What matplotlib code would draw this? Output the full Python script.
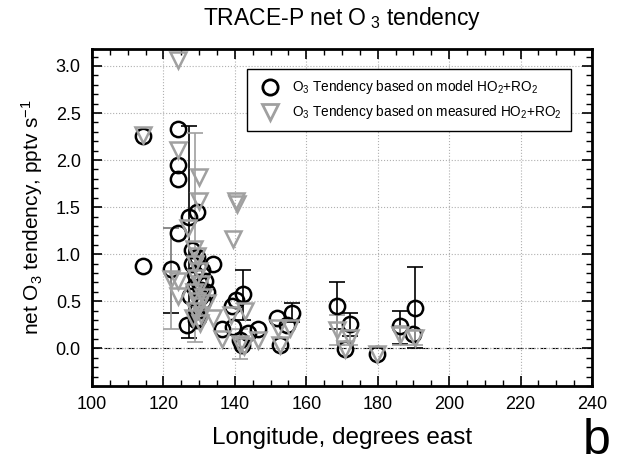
import numpy as np
import matplotlib
matplotlib.use("Agg")
import matplotlib.pyplot as plt
from matplotlib.ticker import MultipleLocator
from matplotlib.lines import Line2D

# O3 tendency from model HO2+RO2 (circles)
model_lon = [114.3, 114.4, 122.1, 124.0, 124.0, 124.0, 124.0, 127.2, 129.3, 127.9,
             129.3, 128.8, 130.7, 131.6, 132.1, 130.2, 127.4, 131.0, 129.3, 129.8,
             128.5, 130.0, 128.0, 130.5, 126.5, 129.0, 134.0, 136.3, 139.1, 140.3,
             142.4, 139.6, 141.4, 143.8, 146.6, 142.0, 151.7, 155.9, 154.5, 152.6,
             168.5, 172.2, 170.8, 179.7, 186.2, 190.4, 190.0]
model_val = [2.26, 0.87, 0.84, 2.33, 1.95, 1.80, 1.23, 1.40, 1.45, 1.04,
             0.97, 0.79, 0.83, 0.71, 0.60, 0.55, 0.56, 0.50, 0.40, 0.32,
             0.65, 0.70, 0.90, 0.62, 0.25, 0.30, 0.90, 0.20, 0.45, 0.51,
             0.58, 0.23, 0.085, 0.16, 0.21, 0.03, 0.32, 0.38, 0.245, 0.03,
             0.45, 0.255, -0.01, -0.06, 0.235, 0.43, 0.155]

# O3 tendency from measured HO2+RO2 (triangles)
meas_lon = [114.3, 124.1, 124.0, 130.0, 130.0, 140.2, 140.5, 127.0, 139.6, 122.0,
            124.0, 124.0, 128.5, 129.5, 128.8, 130.0, 129.0, 130.5, 128.5, 131.0,
            129.5, 132.1, 130.0, 128.8, 130.5, 128.4, 130.2, 134.0, 136.3, 139.0,
            142.8, 141.4, 142.5, 146.6, 152.6, 155.5, 152.0, 168.5, 172.2, 170.8,
            179.7, 186.2, 190.4]
meas_val = [2.27, 3.06, 2.11, 1.82, 1.57, 1.57, 1.53, 1.28, 1.16, 0.74,
            0.72, 0.56, 1.05, 0.98, 0.90, 0.82, 0.75, 0.68, 0.60, 0.55,
            0.50, 0.48, 0.45, 0.40, 0.35, 0.32, 0.27, 0.32, 0.10, 0.35,
            0.40, 0.05, 0.02, 0.085, 0.03, 0.22, 0.22, 0.19, 0.11, -0.01,
            -0.06, 0.14, 0.11]

# error bars (lon, value, lower, upper)
model_err_lon = [122.1, 127.2, 142.4, 155.9, 168.5, 172.2, 186.2, 190.4]
model_err_val = [0.84, 1.40, 0.58, 0.38, 0.45, 0.255, 0.235, 0.43]
model_err_lo = [0.47, 1.29, 0.28, 0.10, 0.25, 0.125, 0.185, 0.43]
model_err_hi = [0.44, 0.96, 0.25, 0.10, 0.25, 0.125, 0.165, 0.43]

meas_err_lon = [122.0, 128.9, 141.4, 168.5, 172.2, 186.2, 190.4]
meas_err_val = [0.74, 1.05, 0.05, 0.19, 0.11, 0.14, 0.11]
meas_err_lo = [0.54, 0.98, 0.16, 0.16, 0.08, 0.10, 0.08]
meas_err_hi = [0.54, 1.24, 0.16, 0.16, 0.08, 0.10, 0.08]

gray = "#a0a0a0"

plt.rcParams['font.family'] = ['Liberation Sans', 'DejaVu Sans']
plt.rcParams['mathtext.fontset'] = 'custom'
plt.rcParams['mathtext.rm'] = 'Liberation Sans'
plt.rcParams['mathtext.it'] = 'Liberation Sans'


def main():
    fig = plt.figure(figsize=(6.17, 4.65), dpi=100)
    ax = fig.add_axes([0.149, 0.170, 0.8105, 0.7246])

    ax.grid(True, which='major', color='#b0b0b0', linestyle=':', linewidth=0.8)
    ax.axhline(0, color='black', linestyle='-.', linewidth=0.8, zorder=1)

    ax.errorbar(model_err_lon, model_err_val, yerr=[model_err_lo, model_err_hi],
                fmt='none', ecolor='black', elinewidth=1.2, capsize=6, capthick=1.2, zorder=2)
    ax.errorbar(meas_err_lon, meas_err_val, yerr=[meas_err_lo, meas_err_hi],
                fmt='none', ecolor=gray, elinewidth=1.2, capsize=6, capthick=1.2, zorder=2)

    ax.plot(model_lon, model_val, 'o', markersize=11, markerfacecolor='none',
            markeredgecolor='black', markeredgewidth=1.8, zorder=3)
    ax.plot(meas_lon, meas_val, 'v', markersize=11.5, markerfacecolor='none',
            markeredgecolor=gray, markeredgewidth=1.8, zorder=4)

    ax.set_xlim(100, 240)
    ax.set_ylim(-0.4, 3.18)
    ax.xaxis.set_major_locator(MultipleLocator(20))
    ax.xaxis.set_minor_locator(MultipleLocator(5))
    ax.yaxis.set_major_locator(MultipleLocator(0.5))
    ax.yaxis.set_minor_locator(MultipleLocator(0.1))
    ax.yaxis.set_major_formatter(plt.FormatStrFormatter('%.1f'))
    ax.tick_params(which='both', direction='in', top=True, right=True, labelsize=13, pad=8)
    ax.tick_params(axis='x', which='both', pad=7)
    ax.tick_params(which='major', length=7, width=1.2)
    ax.tick_params(which='minor', length=4, width=1.0)
    for spine in ['top', 'right', 'bottom', 'left']:
        ax.spines[spine].set_linewidth(2)

    ax.set_title('TRACE-P net O$_{\\ 3}$ tendency', fontsize=16.5, pad=17)
    ax.set_xlabel('Longitude, degrees east', fontsize=17.5, labelpad=10)
    ax.set_ylabel('net O$_3$ tendency, pptv s$^{-1}$', fontsize=15, labelpad=8)

    handles = [
        Line2D([], [], marker='o', linestyle='none', markersize=11, markerfacecolor='none',
               markeredgecolor='black', markeredgewidth=2),
        Line2D([], [], marker='v', linestyle='none', markersize=11.5, markerfacecolor='none',
               markeredgecolor=gray, markeredgewidth=2),
    ]
    labels = ['O$_3$ Tendency based on model HO$_2$+RO$_2$',
              'O$_3$ Tendency based on measured HO$_2$+RO$_2$']
    leg = ax.legend(handles, labels, loc='upper right', fontsize=9.8, fancybox=False,
                    edgecolor='black', framealpha=1, borderpad=0.7, handletextpad=0.6,
                    bbox_to_anchor=(0.972, 0.961))
    leg.get_frame().set_linewidth(1.0)

    # panel letter
    fig.text(0.99, 0.024, 'b', fontsize=36, ha='right', va='baseline')

    plt.savefig('out.png', dpi=100)


if __name__ == '__main__':
    main()
